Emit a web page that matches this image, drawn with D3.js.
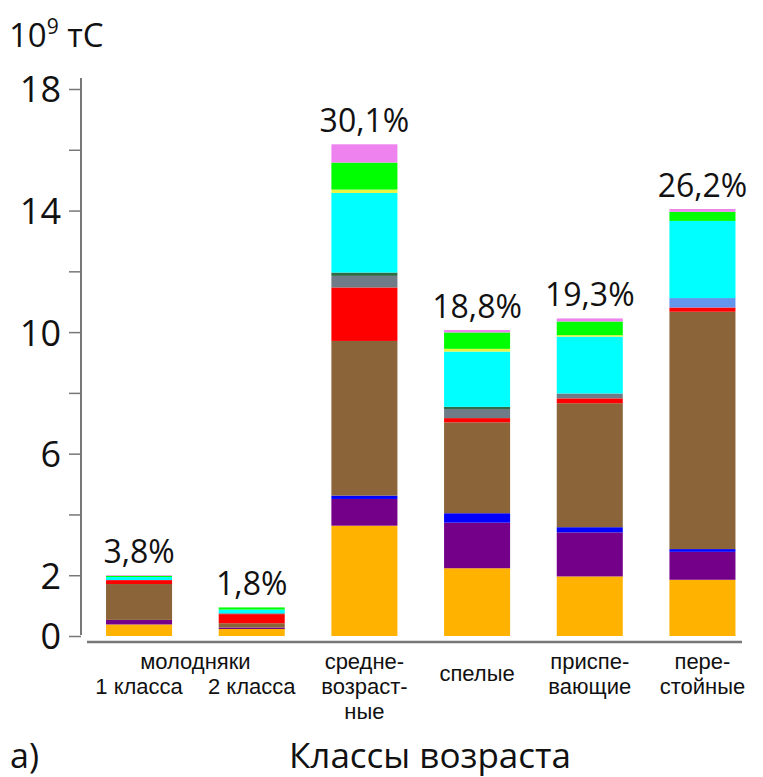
<!DOCTYPE html>
<html>
<head>
<meta charset="utf-8">
<script src="https://cdn.jsdelivr.net/npm/d3@7"></script>
<style>
    body { margin: 0; background: #fff; }
    svg text { font-family: "Open Sans", "Noto Sans", sans-serif; fill: #111; }
    svg text.cat { font-family: "Liberation Sans", "DejaVu Sans", sans-serif; }
</style>
</head>
<body>
<svg id="chart" width="763" height="777"></svg>
<script>
// Age classes (x axis)
const categories = ["mol1", "mol2", "sred", "spel", "prisp", "perest"];
const shares = ["3,8%", "1,8%", "30,1%", "18,8%", "19,3%", "26,2%"];

// Stacked components, bottom to top (10^9 tC)
const seriesKeys = ["orange", "purple", "blue", "brown", "red", "gray", "steel", "darkgreen", "cyan", "yellow", "green", "violet"];
const seriesColors = ["#ffb300", "#74008a", "#0000ff", "#8b6539", "#ff0000", "#6f7b87", "#6495ed", "#2f6b45", "#00ffff", "#e6f542", "#00ff00", "#ee82ee"];

const orange    = [0.38, 0.23, 3.63, 2.23, 1.96, 1.85];
const purple    = [0.15, 0.05, 0.88, 1.50, 1.45, 0.92];
const blue      = [0.00, 0.00, 0.11, 0.31, 0.17, 0.09];
const brown     = [1.18, 0.14, 5.09, 2.99, 4.08, 7.81];
const red       = [0.13, 0.30, 1.76, 0.14, 0.16, 0.14];
const gray      = [0.00, 0.03, 0.38, 0.30, 0.16, 0.00];
const steel     = [0.00, 0.00, 0.00, 0.00, 0.00, 0.31];
const darkgreen = [0.00, 0.00, 0.11, 0.07, 0.00, 0.00];
const cyan      = [0.10, 0.12, 2.62, 1.82, 1.87, 2.54];
const yellow    = [0.00, 0.00, 0.11, 0.09, 0.05, 0.00];
const green     = [0.04, 0.07, 0.89, 0.54, 0.45, 0.30];
const violet    = [0.02, 0.00, 0.60, 0.08, 0.10, 0.09];

const yTicks = [0, 2, 4, 6, 8, 10, 12, 14, 16, 18];
const yLabeled = [0, 2, 6, 10, 14, 18];

// category label lines, positioned by category index
const catLabels = [
    { at: 0.5, lines: ["молодняки"] },
    { at: 0, lines: ["", "1 класса"] },
    { at: 1, lines: ["", "2 класса"] },
    { at: 2, lines: ["средне-", "возраст-", "ные"] },
    { at: 3, lines: ["", "спелые"], dy: -13 },
    { at: 4, lines: ["приспе-", "вающие"] },
    { at: 5, lines: ["пере-", "стойные"] },
];

const seriesValues = { orange, purple, blue, brown, red, gray, steel, darkgreen, cyan, yellow, green, violet };
const table = categories.map((c, i) => {
    const row = { cat: c };
    seriesKeys.forEach((k) => (row[k] = seriesValues[k][i]));
    return row;
});

const svg = d3.select("#chart");

const x = d3.scaleBand().domain(categories).range([83.5, 758]).paddingInner(0.414).paddingOuter(0.2);
const y = d3.scaleLinear().domain([0, 18]).range([636, 89]);
const color = d3.scaleOrdinal().domain(seriesKeys).range(seriesColors);

const stacked = d3.stack().keys(seriesKeys)(table);

svg.append("g")
    .selectAll("g")
    .data(stacked)
    .join("g")
    .attr("fill", (d) => color(d.key))
    .selectAll("rect")
    .data((d) => d)
    .join("rect")
    .attr("x", (d) => x(d.data.cat))
    .attr("width", x.bandwidth())
    .attr("y", (d) => y(d[1]))
    .attr("height", (d) => Math.max(0, y(d[0]) - y(d[1])));

// y axis
const yAxis = d3.axisLeft(y).tickValues(yTicks).tickSize(12).tickPadding(8)
    .tickFormat((d) => (yLabeled.includes(d) ? d : ""));
const gy = svg.append("g").attr("transform", "translate(81,0)").call(yAxis);
gy.select(".domain").attr("d", "M0,78V635").attr("stroke", "#777").attr("stroke-width", 2);
gy.selectAll(".tick line").attr("stroke", "#777").attr("stroke-width", 1.5);
gy.selectAll(".tick text").style("font-size", "36px").attr("dy", "0.36em");

// baseline
svg.append("line")
    .attr("x1", 87).attr("x2", 742)
    .attr("y1", 642).attr("y2", 642)
    .attr("stroke", "#777").attr("stroke-width", 2.5);

// share labels
const totals = table.map((r) => d3.sum(seriesKeys, (k) => r[k]));
svg.append("g")
    .selectAll("text")
    .data(categories)
    .join("text")
    .attr("x", (d) => x(d) + x.bandwidth() / 2)
    .attr("y", (d, i) => y(totals[i]) - 12)
    .attr("text-anchor", "middle")
    .style("font-size", "32px")
    .text((d, i) => shares[i]);

// category labels
const cx = (at) => x(categories[0]) + x.bandwidth() / 2 + at * x.step();
catLabels.forEach((l) => {
    l.lines.forEach((line, j) => {
        if (!line) return;
        svg.append("text")
            .attr("class", "cat")
            .attr("x", cx(l.at))
            .attr("y", 669 + j * 25 + (l.dy || 0))
            .attr("text-anchor", "middle")
            .style("font-size", "22px")
            .text(line);
    });
});

// unit label
const unit = svg.append("text").attr("x", 9).attr("y", 47).style("font-size", "33px");
unit.append("tspan").text("10");
unit.append("tspan").attr("dy", -13).style("font-size", "21px").text("9");
unit.append("tspan").attr("dy", 13).text(" тС");

// panel letter and axis title
svg.append("text").attr("x", 10).attr("y", 768).style("font-size", "34px").text("а)");
svg.append("text").attr("x", 430).attr("y", 768).attr("text-anchor", "middle")
    .style("font-size", "35px").text("Классы возраста");
</script>
</body>
</html>
